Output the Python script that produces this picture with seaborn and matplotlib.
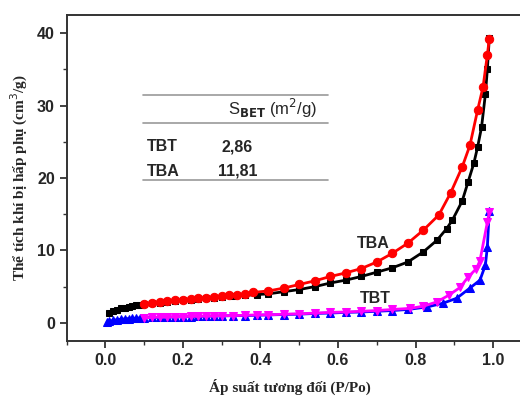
import numpy as np
import pandas as pd
import matplotlib
matplotlib.use("Agg")
import matplotlib.pyplot as plt
import seaborn as sns
from matplotlib.ticker import MultipleLocator

# -----------------------------------
# Data
# -----------------------------------

tba_ads_x = [0.01, 0.02, 0.03, 0.04, 0.05, 0.06, 0.07, 0.08, 0.09, 0.10, 0.12, 0.14,
             0.16, 0.18, 0.20, 0.22, 0.24, 0.26, 0.28, 0.30, 0.33, 0.36, 0.39, 0.42,
             0.46, 0.50, 0.54, 0.58, 0.62, 0.66, 0.70, 0.74, 0.78, 0.82, 0.855, 0.88,
             0.895, 0.92, 0.935, 0.95, 0.96, 0.97, 0.98, 0.985, 0.99]
tba_ads_y = [1.3, 1.6, 1.8, 2.0, 2.1, 2.2, 2.3, 2.4, 2.5, 2.6, 2.7, 2.8,
             2.9, 3.0, 3.1, 3.2, 3.3, 3.4, 3.5, 3.6, 3.7, 3.8, 3.9, 4.0,
             4.3, 4.6, 5.0, 5.5, 5.9, 6.4, 7.0, 7.6, 8.4, 9.8, 11.4, 13.0,
             14.2, 16.8, 19.4, 22.0, 24.3, 27.0, 31.6, 35.0, 39.3]

tba_des_x = [0.10, 0.12, 0.14, 0.16, 0.18, 0.20, 0.22, 0.24, 0.26, 0.28, 0.30, 0.32,
             0.34, 0.36, 0.38, 0.42, 0.46, 0.50, 0.54, 0.58, 0.62, 0.66, 0.70, 0.74,
             0.78, 0.82, 0.86, 0.89, 0.92, 0.94, 0.96, 0.974, 0.985, 0.99]
tba_des_y = [2.6, 2.8, 2.9, 3.0, 3.1, 3.2, 3.3, 3.4, 3.5, 3.6, 3.7, 3.8,
             3.9, 4.0, 4.2, 4.4, 4.8, 5.3, 5.8, 6.4, 6.9, 7.5, 8.4, 9.6,
             11.0, 12.8, 14.9, 17.9, 21.5, 24.5, 29.4, 32.6, 37.0, 39.2]

tbt_ads_x = [0.005, 0.01, 0.02, 0.03, 0.04, 0.05, 0.06, 0.07, 0.08, 0.09, 0.10, 0.12,
             0.14, 0.16, 0.18, 0.20, 0.22, 0.24, 0.26, 0.28, 0.30, 0.33, 0.36, 0.39,
             0.42, 0.46, 0.50, 0.54, 0.58, 0.62, 0.66, 0.70, 0.74, 0.78, 0.83, 0.87,
             0.906, 0.94, 0.966, 0.98, 0.985, 0.99]
tbt_ads_y = [0.1, 0.2, 0.35, 0.45, 0.5, 0.55, 0.6, 0.65, 0.65, 0.7, 0.7, 0.75,
             0.75, 0.8, 0.8, 0.85, 0.85, 0.9, 0.9, 0.95, 0.95, 1.0, 1.0, 1.05,
             1.1, 1.15, 1.2, 1.3, 1.35, 1.45, 1.5, 1.6, 1.7, 1.85, 2.2, 2.7,
             3.4, 4.8, 5.9, 8.0, 10.5, 15.5]

tbt_des_x = [0.10, 0.12, 0.14, 0.16, 0.18, 0.20, 0.22, 0.24, 0.26, 0.28, 0.30, 0.33,
             0.36, 0.39, 0.42, 0.46, 0.50, 0.54, 0.58, 0.62, 0.66, 0.70, 0.74, 0.786,
             0.82, 0.855, 0.885, 0.915, 0.935, 0.957, 0.966, 0.985, 0.99]
tbt_des_y = [0.7, 0.75, 0.8, 0.8, 0.85, 0.85, 0.9, 0.9, 0.95, 0.95, 1.0, 1.0,
             1.05, 1.1, 1.1, 1.2, 1.25, 1.35, 1.45, 1.5, 1.6, 1.7, 1.85, 2.0,
             2.3, 2.9, 3.8, 4.9, 6.3, 7.5, 8.6, 13.9, 15.3]

samples = ["TBT", "TBA"]
sbet_values = ["2,86", "11,81"]

# -----------------------------------
# Plot
# -----------------------------------

sns.set_style("ticks")
plt.rcParams["font.family"] = ["Liberation Sans", "DejaVu Sans"]

fig = plt.figure(figsize=(5.2, 4.04), dpi=100)
ax = fig.add_axes([0.128, 0.156, 0.895, 0.807])

series = [
    (tba_ads_x, tba_ads_y, "black", "s", 5.0),
    (tba_des_x, tba_des_y, "red", "o", 6.0),
    (tbt_ads_x, tbt_ads_y, "blue", "^", 6.0),
    (tbt_des_x, tbt_des_y, "#FF00FF", "v", 6.0),
]
for xs, ys, col, mk, ms in series:
    sns.lineplot(x=xs, y=ys, ax=ax, color=col, marker=mk, markersize=ms,
                 markeredgecolor=col, linewidth=2, sort=False, legend=False)

ax.set_xlim(-0.1, 1.1)
ax.set_ylim(-2.5, 42.5)
ax.xaxis.set_major_locator(MultipleLocator(0.2))
ax.xaxis.set_minor_locator(MultipleLocator(0.1))
ax.yaxis.set_major_locator(MultipleLocator(10))
ax.yaxis.set_minor_locator(MultipleLocator(5))
ax.xaxis.set_major_formatter(matplotlib.ticker.FormatStrFormatter("%.1f"))

for s in ax.spines.values():
    s.set_linewidth(1.4)
    s.set_color("#333333")
ax.tick_params(which="major", direction="out", length=5, width=1.3, color="#333333",
               top=False, right=False)
ax.tick_params(which="minor", direction="out", length=3, width=1.0, color="#333333",
               top=False, right=False)
for lbl in ax.get_xticklabels() + ax.get_yticklabels():
    lbl.set_fontweight("bold")
    lbl.set_fontsize(11.5)

serif = ["Liberation Serif", "DejaVu Serif"]
ax.set_xlabel("Áp suất tương đối (P/Po)", family=serif, fontweight="bold",
              fontsize=11)
ax.set_ylabel("Thể tích khí bị hấp phụ (cm$^3$/g)", family=serif, fontweight="bold",
              fontsize=11)
ax.xaxis.set_label_coords((290 - 66.7) / (0.895 * 520), -0.115)
ax.yaxis.set_label_coords(-0.078, 0.5)

# curve labels
ax.text(0.69, 11.0, "TBA", fontsize=11.5, fontweight="bold", ha="center", va="center")
ax.text(0.695, 3.4, "TBT", fontsize=11.5, fontweight="bold", ha="center", va="center")

# S_BET table
tx0, tx1 = 0.098, 0.575
for yl in [31.45, 27.6, 19.7]:
    ax.plot([tx0, tx1], [yl, yl], color="#999999", linewidth=1.2)
ax.text(0.43, 29.6, r"S$_{\mathbf{BET}}$ (m$^2$/g)", fontsize=12, ha="center", va="center")
for i, (name, val) in enumerate(zip(samples, sbet_values)):
    yy = 24.3 - i * 3.4
    ax.text(0.106, yy, name, fontsize=11.5, fontweight="bold", ha="left", va="center")
    ax.text(0.30 if len(val) < 5 else 0.29, yy, val, fontsize=11.5, fontweight="bold",
            ha="left", va="center")

fig.savefig("out.png", dpi=100)
